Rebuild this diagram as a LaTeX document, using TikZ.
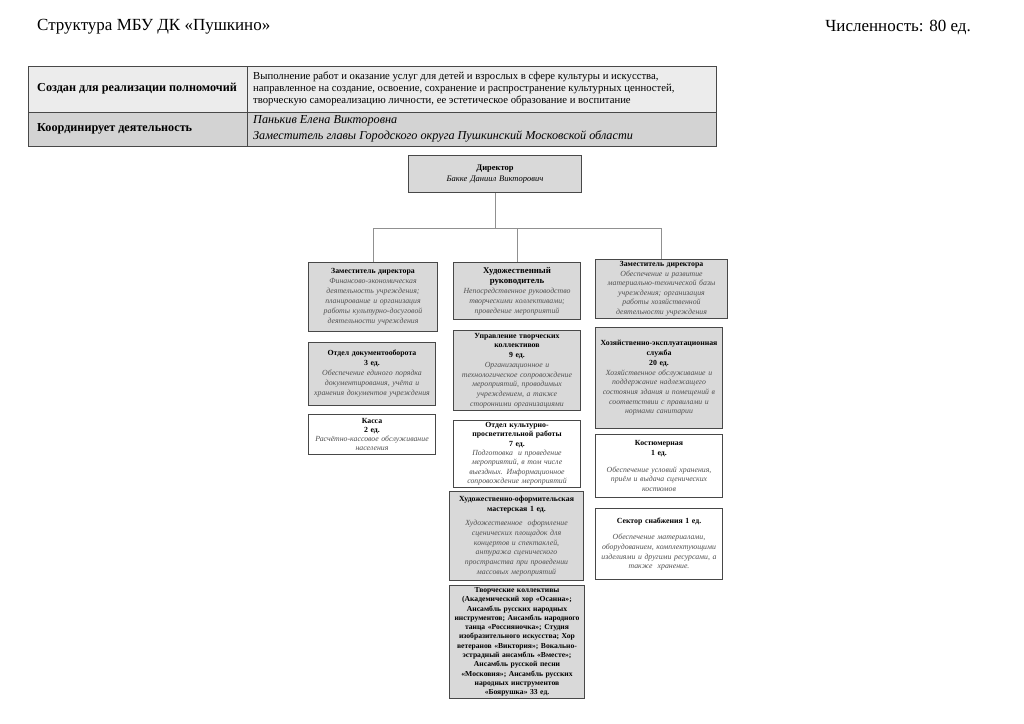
\documentclass[tikz,border=0pt]{standalone}
\usepackage{fontspec}
\setmainfont{Liberation Serif}
\definecolor{boxgray}{HTML}{D9D9D9}
\definecolor{rowa}{HTML}{ECECEC}
\definecolor{rowb}{HTML}{D3D3D3}
\definecolor{desc}{HTML}{505050}
\definecolor{edge}{HTML}{484848}
\definecolor{conn}{HTML}{909090}
\newcommand\dsc{\itshape\color{desc}}
\begin{document}
\begin{tikzpicture}[x=1pt,y=-1pt,
  box/.style={draw=edge, line width=1pt, fill=boxgray, align=center, inner sep=2pt,
    anchor=north west, font=\fontsize{7.8}{9.7}\selectfont},
  wbox/.style={box, fill=white},
  link/.style={draw=conn, line width=0.8pt},
  cell/.style={anchor=west, align=left, inner sep=0pt}]
\useasboundingbox (0,0) rectangle (1024,723);

% title
\node[anchor=west, inner sep=0pt, font=\fontsize{17}{19}\selectfont] (title) at (37,27) {Структура МБУ ДК «Пушкино»};
\node[anchor=east, inner sep=0pt, font=\fontsize{17}{19}\selectfont] (count) at (971,27) {Численность: 80 ед.};

% table
\fill[rowa] (28,66) rectangle (716,112);
\fill[rowb] (28,112) rectangle (716,146);
\draw[edge, line width=0.9pt] (28,66) rectangle (716,146);
\draw[edge, line width=0.9pt] (28,112) -- (716,112);
\draw[edge, line width=0.9pt] (247,66) -- (247,146);
\node[cell, font=\bfseries\fontsize{12.2}{14}\selectfont] (c1) at (37,89) {Создан для реализации полномочий};
\node[cell, font=\fontsize{10.7}{12}\selectfont] (c2) at (253,89) {Выполнение работ и оказание услуг для детей и взрослых в сфере культуры и искусства,\\
направленное на создание, освоение, сохранение и распространение культурных ценностей,\\
творческую самореализацию личности, ее эстетическое образование и воспитание};
\node[cell, font=\bfseries\fontsize{12.2}{14}\selectfont] (c3) at (37,129) {Координирует деятельность};
\node[cell, font=\itshape\fontsize{12.2}{15.5}\selectfont] (c4) at (253,129) {Панькив Елена Викторовна\\
Заместитель главы Городского округа Пушкинский Московской области};

% director
\node[box, minimum width=173pt, minimum height=37pt, text width=169pt, font=\fontsize{8.5}{11}\selectfont] (dir) at (408,155)
  {\textbf{Директор}\\{\itshape Бакке Даниил Викторович}};

% deputies
\node[box, minimum width=129pt, minimum height=69pt, text width=125pt, font=\fontsize{7.8}{10}\selectfont] (dep1) at (308,262)
  {\textbf{Заместитель директора}\\ \dsc Финансово-экономическая\\ деятельность учреждения;\\ планирование и организация\\ работы культурно-досуговой\\ деятельности учреждения};
\node[box, minimum width=127pt, minimum height=57pt, text width=123pt] (dep2) at (453,262)
  {{\bfseries\fontsize{8.8}{10.5}\selectfont Художественный\\ руководитель\\}\dsc Непосредственное руководство\\ творческими коллективами;\\ проведение мероприятий};
\node[box, minimum width=132pt, minimum height=59pt, text width=128pt, font=\fontsize{7.8}{9.5}\selectfont] (dep3) at (595,259)
  {\textbf{Заместитель директора}\\ \dsc Обеспечение и развитие\\ материально-технической базы\\ учреждения; организация\\ работы хозяйственной\\ деятельности учреждения};

\coordinate (bus) at (494,228);
\draw[link] (dir.south) -- (dir.south |- bus);
\draw[link] (dep1.north) -- (dep1.north |- bus) -- (dep3.north |- bus) -- (dep3.north);
\draw[link] (dep2.north) -- (dep2.north |- bus);

% left column
\node[box, minimum width=127pt, minimum height=63pt, text width=123pt, font=\fontsize{7.8}{10}\selectfont] (doc) at (308,342)
  {\textbf{Отдел документооборота}\\ \textbf{3 ед.}\\ \dsc Обеспечение единого порядка\\ документирования, учёта и\\ хранения документов учреждения};
\node[wbox, minimum width=127pt, minimum height=40pt, text width=123pt, font=\fontsize{7.8}{9}\selectfont] (kassa) at (308,414)
  {\textbf{Касса}\\ \textbf{2 ед.}\\ \dsc Расчётно-кассовое обслуживание\\ населения};

% middle column
\node[box, minimum width=127pt, minimum height=80pt, text width=123pt] (upr) at (453,330)
  {\textbf{Управление творческих}\\ \textbf{коллективов}\\ \textbf{9 ед.}\\ \dsc Организационное и\\ технологическое сопровождение\\ мероприятий, проводимых\\ учреждением, а также\\ сторонними организациями};
\node[wbox, minimum width=127pt, minimum height=66pt, text width=123pt, font=\fontsize{7.8}{9.3}\selectfont] (okp) at (453,420)
  {\textbf{Отдел культурно-}\\ \textbf{просветительной работы}\\ \textbf{7 ед.}\\ \dsc Подготовка~ и проведение\\ мероприятий, в том числе\\ выездных. Информационное\\ сопровождение мероприятий};
\node[box, minimum width=134pt, minimum height=89pt, text width=130pt] (hom) at (449,491)
  {\textbf{Художественно-оформительская}\\ \textbf{мастерская 1 ед.}\\[5pt] \dsc Художественное~ оформление\\ сценических площадок для\\ концертов и спектаклей,\\ антуража сценического\\ пространства при проведении\\ массовых мероприятий};
\node[box, minimum width=135pt, minimum height=112pt, text width=131pt, font=\bfseries\fontsize{7.6}{9.3}\selectfont] (tk) at (449,585)
  {Творческие коллективы\\ (Академический хор «Осанна»;\\ Ансамбль русских народных\\ инструментов; Ансамбль народного\\ танца «Россияночка»; Студия\\ изобразительного искусства; Хор\\ ветеранов «Виктория»; Вокально-\\ эстрадный ансамбль «Вместе»;\\ Ансамбль русской песни\\ «Московия»; Ансамбль русских\\ народных инструментов\\ «Боярушка» 33 ед.};

% right column
\node[box, minimum width=127pt, minimum height=101pt, text width=123pt] (hes) at (595,327)
  {\textbf{Хозяйственно-эксплуатационная}\\ \textbf{служба}\\ \textbf{20 ед.}\\ \dsc Хозяйственное обслуживание и\\ поддержание надлежащего\\ состояния здания и помещений в\\ соответствии с правилами и\\ нормами санитарии};
\node[wbox, minimum width=127pt, minimum height=63pt, text width=123pt] (kost) at (595,434)
  {\textbf{Костюмерная}\\ \textbf{1 ед.}\\[7pt] \dsc Обеспечение условий хранения,\\ приём и выдача сценических\\ костюмов};
\node[wbox, minimum width=127pt, minimum height=71pt, text width=123pt] (snab) at (595,508)
  {\textbf{Сектор снабжения 1 ед.}\\[7pt] \dsc Обеспечение материалами,\\ оборудованием, комплектующими\\ изделиями и другими ресурсами, а\\ также~ хранение.};
\end{tikzpicture}
\end{document}
